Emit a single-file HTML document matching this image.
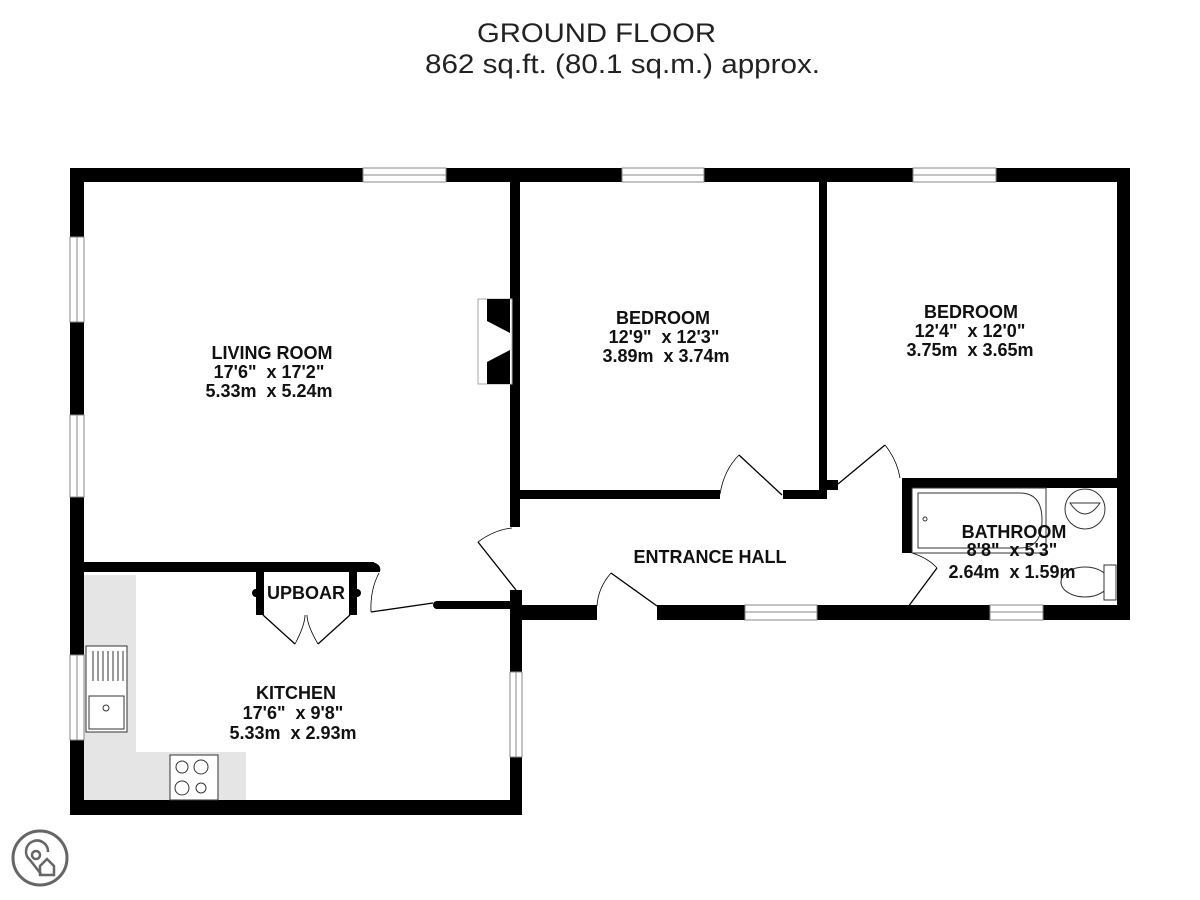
<!DOCTYPE html>
<html><head><meta charset="utf-8"><style>
html,body{margin:0;padding:0;background:#fff;}
svg{display:block;}
text{font-family:"Liberation Sans",Arial,sans-serif;white-space:pre;}
</style></head><body>
<svg width="1200" height="900" viewBox="0 0 1200 900" xmlns="http://www.w3.org/2000/svg" xml:space="preserve">
<rect width="1200" height="900" fill="#fff"/>
<text x="477" y="42" font-size="27" textLength="239" lengthAdjust="spacingAndGlyphs" fill="#222">GROUND FLOOR</text>
<text x="425" y="73" font-size="27" textLength="395" lengthAdjust="spacingAndGlyphs" fill="#222">862 sq.ft. (80.1 sq.m.) approx.</text>

<rect x="84" y="575" width="52" height="225" fill="#e5e5e5"/>
<rect x="84" y="752" width="162" height="48" fill="#e5e5e5"/>

<g fill="#000">
<rect x="70" y="168" width="1060" height="14"/>
<rect x="70" y="168" width="14" height="647"/>
<rect x="510" y="182" width="10" height="345"/>
<rect x="819" y="182" width="8" height="312"/>
<rect x="826" y="480" width="12" height="10"/>
<rect x="1117" y="168" width="13" height="452"/>
<rect x="520" y="490" width="200" height="9"/>
<rect x="783" y="490" width="44" height="9"/>
<rect x="902" y="478" width="215" height="10"/>
<rect x="902" y="478" width="10" height="75"/>
<rect x="510" y="605" width="87" height="15"/>
<rect x="657" y="605" width="473" height="15"/>
<rect x="510" y="590" width="12" height="30"/>
<rect x="84" y="562" width="290" height="10"/>
<path d="M370 562 Q382 563 380 572 L370 572Z"/>
<rect x="256" y="571" width="8" height="44"/>
<rect x="349" y="571" width="8" height="44"/>
<circle cx="256" cy="593" r="4"/><circle cx="357" cy="593" r="4"/>
<rect x="436" y="601" width="76" height="8"/>
<circle cx="437" cy="605" r="4"/>
<rect x="510" y="605" width="12" height="210"/>
<rect x="70" y="800" width="452" height="15"/>
</g>

<g fill="#fff" stroke="#888" stroke-width="1">
<rect x="363" y="168" width="83" height="14"/><line x1="363" y1="175" x2="446" y2="175"/>
<rect x="622" y="168" width="82" height="14"/><line x1="622" y1="175" x2="704" y2="175"/>
<rect x="913" y="168" width="83" height="14"/><line x1="913" y1="175" x2="996" y2="175"/>
<rect x="70" y="237" width="14" height="85"/><line x1="77" y1="237" x2="77" y2="322"/>
<rect x="70" y="415" width="14" height="82"/><line x1="77" y1="415" x2="77" y2="497"/>
<rect x="70" y="655" width="14" height="85"/><line x1="77" y1="655" x2="77" y2="740"/>
<rect x="510" y="672" width="12" height="85"/><line x1="516" y1="672" x2="516" y2="757"/>
<rect x="745" y="605" width="72" height="15"/><line x1="745" y1="612" x2="817" y2="612"/>
<rect x="990" y="605" width="53" height="15"/><line x1="990" y1="612" x2="1043" y2="612"/>
</g>

<rect x="478" y="299" width="34" height="85" fill="#fff" stroke="#aaa"/>
<path d="M487 299 L510 299 L510 384 L487 384 L487 362 L510 350 L510 333 L487 321Z" fill="#000"/>

<g fill="none" stroke="#000" stroke-width="1.3">
<line x1="782" y1="495" x2="739" y2="455"/>
<path d="M720 494 Q724 470 739 455" stroke-width="0.8"/>
<line x1="838" y1="484" x2="885" y2="445"/>
<path d="M885 445 Q897 460 900 478" stroke-width="0.8"/>
<line x1="516" y1="590" x2="478" y2="542"/>
<path d="M478 542 Q494 530 512 528" stroke-width="0.8"/>
<line x1="657" y1="606" x2="611" y2="573"/>
<path d="M611 573 Q598 588 597 606" stroke-width="0.8"/>
<line x1="908" y1="607" x2="937" y2="568"/>
<path d="M912 553 Q928 558 937 568" stroke-width="0.8"/>
<line x1="371" y1="612" x2="433" y2="603"/>
<path d="M379 573 Q370 590 371 612" stroke-width="0.8"/>
<line x1="263" y1="615" x2="295" y2="644"/>
<line x1="350" y1="615" x2="318" y2="644"/>
<path d="M295 644 Q305 625 305 615 M318 644 Q307 625 307 615" stroke-width="0.8"/>
</g>

<g fill="#fff" stroke="#333" stroke-width="1">
<rect x="86" y="646" width="41" height="86"/>
<rect x="89" y="696" width="35" height="33"/>
<circle cx="106" cy="708" r="3"/>
<path d="M93 651v30M98 651v30M103 651v30M108 651v30M113 651v30M118 651v30M123 651v30"/>
<rect x="170" y="755" width="48" height="45"/>
<circle cx="182" cy="767" r="6"/><circle cx="201" cy="767" r="7"/>
<circle cx="182" cy="788" r="7"/><circle cx="201" cy="788" r="5"/>
<rect x="912" y="488" width="134" height="65"/>
<path d="M918 493 H1020 Q1042 493 1042 520 Q1042 548 1020 548 H918Z"/>
<circle cx="925" cy="519" r="2"/>
<circle cx="1085" cy="509" r="20"/>
<path d="M1070 503 Q1085 525 1100 503Z"/>
<ellipse cx="1085" cy="582" rx="24" ry="15"/>
<rect x="1104" y="565" width="12" height="35"/>
</g>

<g font-weight="bold" font-size="18" text-anchor="middle" fill="#111">
<text x="272" y="359">LIVING ROOM</text>
<text x="269" y="378">17'6"  x 17'2"</text>
<text x="269" y="397">5.33m  x 5.24m</text>
<text x="663" y="324">BEDROOM</text>
<text x="664" y="343">12'9"  x 12'3"</text>
<text x="666" y="362">3.89m  x 3.74m</text>
<text x="971" y="318">BEDROOM</text>
<text x="970" y="337">12'4"  x 12'0"</text>
<text x="970" y="356">3.75m  x 3.65m</text>
<text x="710" y="563">ENTRANCE HALL</text>
<text x="1014" y="538">BATHROOM</text>
<text x="1012" y="556">8'8"  x 5'3"</text>
<text x="1012" y="578">2.64m  x 1.59m</text>
<text x="306" y="599">UPBOAR</text>
<text x="296" y="699">KITCHEN</text>
<text x="293" y="719">17'6"  x 9'8"</text>
<text x="293" y="739">5.33m  x 2.93m</text>
</g>

<g fill="none" stroke="#666" stroke-width="3">
<circle cx="40" cy="858" r="27"/>
<circle cx="36" cy="855" r="4" stroke-width="2.5"/>
<path d="M41 874 L30 860 A11 11 0 1 1 48 852" stroke-width="2.5"/>
<path d="M40 866 L47 859 L54 866 V875 H40Z" stroke-width="2.5"/>
</g>
</svg>
</body></html>
